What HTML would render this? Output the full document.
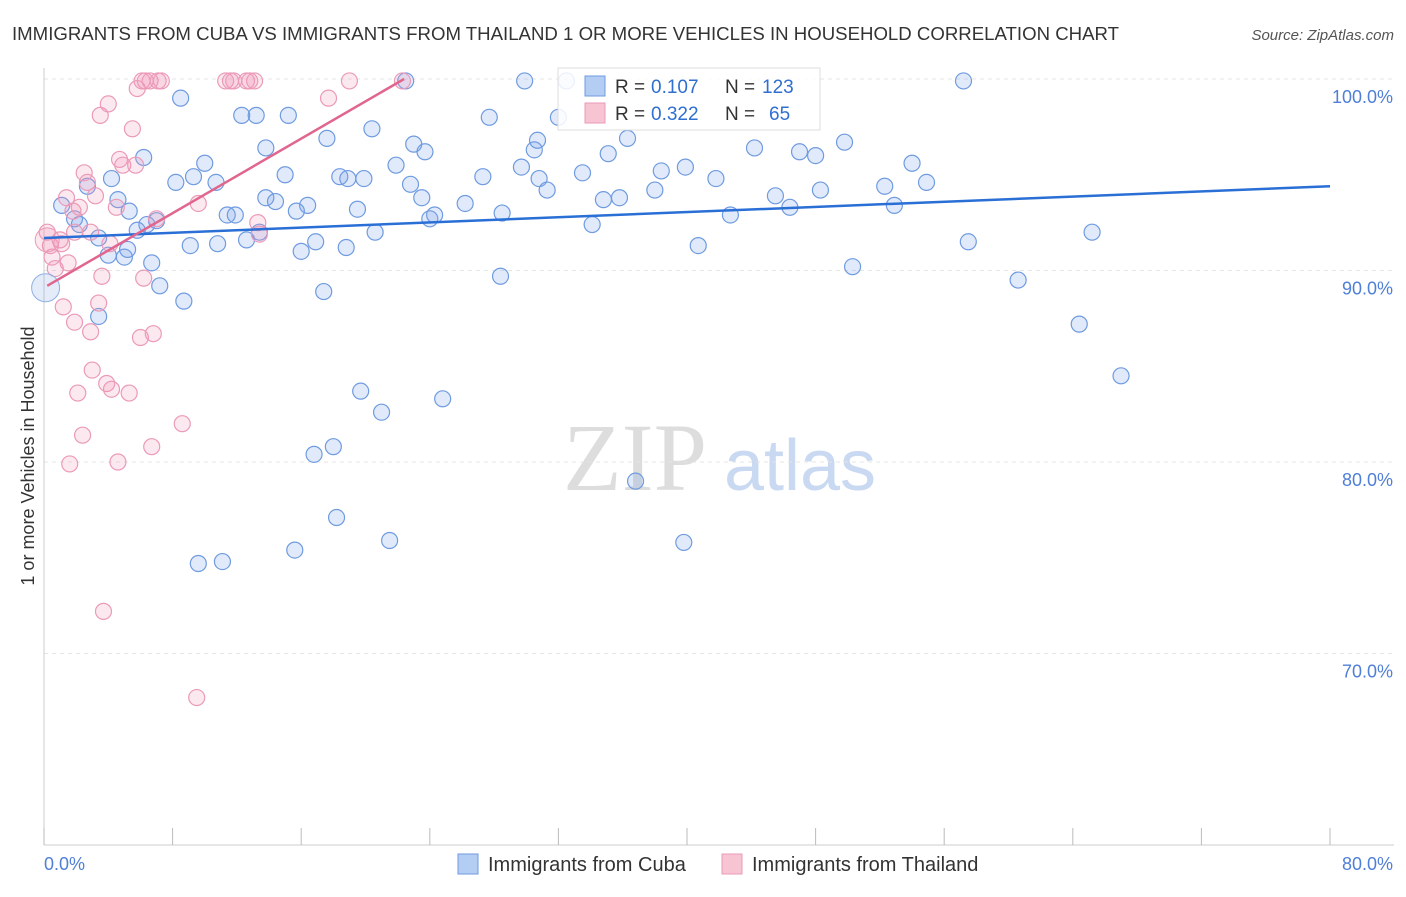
<!DOCTYPE html>
<html><head><meta charset="utf-8"><style>
body{margin:0;background:#fff;font-family:"Liberation Sans",sans-serif;}
</style></head><body>
<svg width="1406" height="892" xmlns="http://www.w3.org/2000/svg" id="chart">
<text x="12" y="40" font-size="18.5" fill="#333" textLength="1107" lengthAdjust="spacingAndGlyphs">IMMIGRANTS FROM CUBA VS IMMIGRANTS FROM THAILAND 1 OR MORE VEHICLES IN HOUSEHOLD CORRELATION CHART</text>
<text x="1394" y="40" font-size="15" fill="#555" font-style="italic" text-anchor="end">Source: ZipAtlas.com</text>
<text x="0" y="0" transform="translate(34,456) rotate(-90)" font-size="18" fill="#333" text-anchor="middle">1 or more Vehicles in Household</text>
<g><text x="635" y="490" font-size="96" font-family="Liberation Serif" fill="#ddd" text-anchor="middle">ZIP</text><text x="800" y="490" font-size="72" fill="#c9d9f2" text-anchor="middle">atlas</text></g>
<g id="grid"></g><g id="axes"></g><g id="pts"></g><g id="trend"></g>
<g>
<rect x="558" y="68" width="262" height="62" fill="rgba(255,255,255,0.85)" stroke="#ddd"/>
<rect x="585" y="76" width="20" height="20" fill="#b4cdf2" stroke="#6f9be0"/>
<text x="615" y="93" font-size="19" fill="#333">R =</text>
<text x="651" y="93" font-size="19" fill="#2f6fd0">0.107</text>
<text x="725" y="93" font-size="19" fill="#333">N =</text>
<text x="762" y="93" font-size="19" fill="#2f6fd0">123</text>
<rect x="585" y="103" width="20" height="20" fill="#f7c4d4" stroke="#eb9ab8"/>
<text x="615" y="120" font-size="19" fill="#333">R =</text>
<text x="651" y="120" font-size="19" fill="#2f6fd0">0.322</text>
<text x="725" y="120" font-size="19" fill="#333">N =</text>
<text x="769" y="120" font-size="19" fill="#2f6fd0">65</text>
</g>
<g>
<rect x="458" y="854" width="20" height="20" fill="#b4cdf2" stroke="#6f9be0"/>
<text x="488" y="871" font-size="20" fill="#333">Immigrants from Cuba</text>
<rect x="722" y="854" width="20" height="20" fill="#f7c4d4" stroke="#eb9ab8"/>
<text x="752" y="871" font-size="20" fill="#333">Immigrants from Thailand</text>
</g>
</svg>
<script>
const cubaX=[1.1,1.9,2.2,2.7,3.4,4.0,4.2,4.6,5.0,5.2,5.3,5.8,6.2,6.4,6.7,7.0,7.2,8.2,8.5,8.7,9.1,9.3,10.0,10.7,10.8,11.4,11.9,12.3,12.6,13.2,13.4,13.8,13.8,14.4,15.0,15.2,15.7,16.0,16.4,16.9,17.4,17.6,18.4,18.8,18.9,19.5,19.9,20.4,20.6,21.9,22.5,22.8,23.0,23.5,23.7,24.0,24.3,24.8,26.2,27.3,27.7,28.4,28.5,29.7,29.9,30.5,30.7,30.8,31.3,32.0,32.5,33.5,34.1,34.8,35.1,35.8,36.3,38.0,38.4,39.9,40.7,41.8,42.7,44.2,45.5,46.4,47.0,48.0,48.3,49.8,50.3,52.3,52.9,54.0,54.9,57.2,57.5,60.6,64.4,65.2,67.0,19.7,21.0,16.8,18.0,18.2,21.5,15.6,9.6,11.1,36.8,39.8,3.4];
const cubaY=[93.4,92.7,92.4,94.4,91.7,90.8,94.8,93.7,90.7,91.1,93.1,92.1,95.9,92.4,90.4,92.6,89.2,94.6,99.0,88.4,91.3,94.9,95.6,94.6,91.4,92.9,92.9,98.1,91.6,98.1,92.0,93.8,96.4,93.6,95.0,98.1,93.1,91.0,93.4,91.5,88.9,96.9,94.9,91.2,94.8,93.2,94.8,97.4,92.0,95.5,99.9,94.5,96.6,93.8,96.2,92.7,92.9,83.3,93.5,94.9,98.0,89.7,93.0,95.4,99.9,96.3,96.8,94.8,94.2,98.0,99.9,95.1,92.4,93.7,96.1,93.8,96.9,94.2,95.2,95.4,91.3,94.8,92.9,96.4,93.9,93.3,96.2,96.0,94.2,96.7,90.2,94.4,93.4,95.6,94.6,99.9,91.5,89.5,87.2,92.0,84.5,83.7,82.6,80.4,80.8,77.1,75.9,75.4,74.7,74.8,79.0,75.8,87.6];
const thaiX=[0.2,0.4,0.5,0.7,1.0,1.2,1.4,1.5,1.6,1.8,1.9,2.1,2.2,2.4,2.5,2.7,2.9,3.0,3.2,3.4,3.5,3.6,3.7,3.9,4.0,4.1,4.2,4.5,4.6,4.7,4.9,5.3,5.5,5.7,5.8,6.0,6.1,6.2,6.3,6.6,6.7,6.8,7.0,7.1,7.3,8.6,9.5,9.6,11.3,11.6,11.8,12.6,12.8,13.1,13.3,13.4,17.7,19.0,22.3,1.9,1.1,2.9];
const thaiY=[92.0,91.3,90.7,90.1,91.6,88.1,93.8,90.4,79.9,93.1,87.3,83.6,93.3,81.4,95.1,94.6,86.8,84.8,93.9,88.3,98.1,89.7,72.2,84.1,98.7,91.4,83.8,93.3,80.0,95.8,95.5,83.6,97.4,95.5,99.5,86.5,99.9,89.6,99.9,99.9,80.8,86.7,92.7,99.9,99.9,82.0,67.7,93.5,99.9,99.9,99.9,99.9,99.9,99.9,92.5,91.9,99.0,99.9,99.9,92.0,91.4,92.0];
const xTicks=[0,8,16,24,32,40,48,56,64,72,80];
const yTicks=[100,90,80,70];
const yTickLabels=["100.0%","90.0%","80.0%","70.0%"];
const cubaTrend=[[0,91.7],[80,94.4]];
const thaiTrend=[[0.2,89.2],[22.4,100]];
const NS="http://www.w3.org/2000/svg";
const sx=v=>44+v*(1330-44)/80;
const sy=v=>79+(100-v)*19.15;
function mk(tag,attrs,parent){const e=document.createElementNS(NS,tag);for(const k in attrs)e.setAttribute(k,attrs[k]);parent.appendChild(e);return e;}
const grid=document.getElementById('grid'),axes=document.getElementById('axes'),pts=document.getElementById('pts'),trend=document.getElementById('trend');
yTicks.forEach((t,i)=>{
 const l=mk('line',{x1:44,x2:1394,y1:sy(t),y2:sy(t),stroke:'#e4e4e4','stroke-dasharray':'4,4'},grid);
 
 
 const tx=mk('text',{x:1393,y:sy(t)+24,'font-size':18,fill:'#4f7fd6','text-anchor':'end'},axes);
 tx.textContent=yTickLabels[i];
 
 
});
const ya=mk('line',{x1:44,x2:44,y1:68,y2:845,stroke:'#ccc'},axes);


const xa=mk('line',{x1:44,x2:1394,y1:845,y2:845,stroke:'#ccc'},axes);


xTicks.forEach(t=>{
 const l=mk('line',{x1:sx(t),x2:sx(t),y1:828,y2:845,stroke:'#bbb'},axes);
 
 
});
const xl0=mk('text',{x:44,y:870,'font-size':18,fill:'#4f7fd6'},axes);xl0.textContent=xTicks[0].toFixed(1)+'%';


const xl1=mk('text',{x:1393,y:870,'font-size':18,fill:'#4f7fd6','text-anchor':'end'},axes);xl1.textContent=xTicks[xTicks.length-1].toFixed(1)+'%';


cubaX.forEach((x,i)=>{
 const c=mk('circle',{cx:sx(x),cy:sy(cubaY[i]),r:8,fill:'rgba(120,160,230,0.22)',stroke:'#6f9be0','stroke-width':1.2},pts);
 
 
});
thaiX.forEach((x,i)=>{
 const c=mk('circle',{cx:sx(x),cy:sy(thaiY[i]),r:8,fill:'rgba(240,150,180,0.22)',stroke:'#eb9ab8','stroke-width':1.2},pts);
 
 
});
const b1=mk('circle',{cx:sx(0.1),cy:sy(89.1),r:14,fill:'rgba(120,160,230,0.2)',stroke:'#8fb0e6'},pts);


const b2=mk('circle',{cx:sx(0.2),cy:sy(91.6),r:12,fill:'rgba(240,150,180,0.22)',stroke:'#eb9ab8'},pts);


const t1=mk('line',{x1:sx(cubaTrend[0][0]),y1:sy(cubaTrend[0][1]),x2:sx(cubaTrend[1][0]),y2:sy(cubaTrend[1][1]),stroke:'#2a6fd6','stroke-width':2.5},trend);


const t2=mk('line',{x1:sx(thaiTrend[0][0]),y1:sy(thaiTrend[0][1]),x2:sx(thaiTrend[1][0]),y2:sy(thaiTrend[1][1]),stroke:'#e0668e','stroke-width':2.5},trend);


</script>
</body></html>
